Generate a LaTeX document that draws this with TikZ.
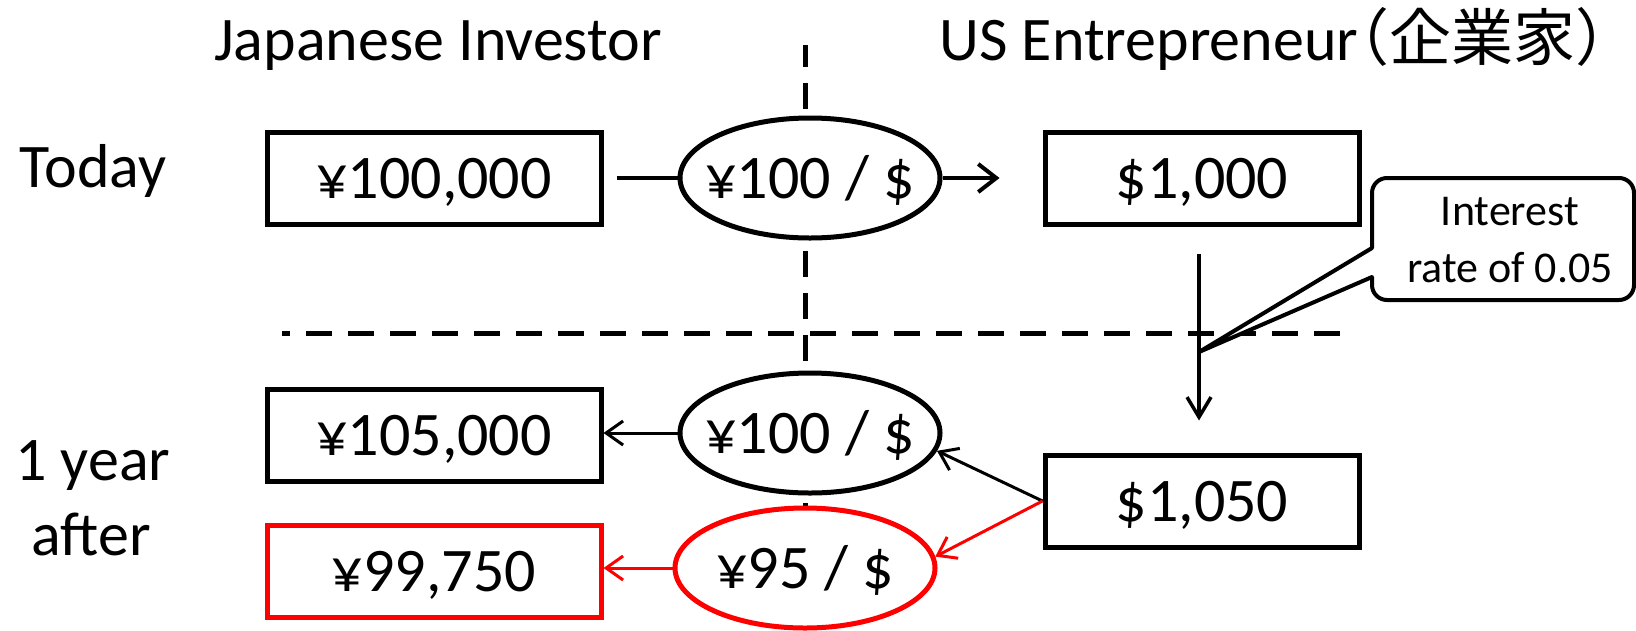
\documentclass[tikz,border=0pt]{standalone}
\usepackage{fontspec}
\setmainfont{Carlito}
\newfontfamily\cjkfont[RawFeature={+halt}]{Noto Sans CJK JP}
\usetikzlibrary{shapes.geometric,arrows.meta}
\begin{document}
\begin{tikzpicture}[x=1pt,y=-1pt,
  big/.style={font=\fontsize{62}{74}\selectfont, inner sep=0pt},
  small/.style={font=\fontsize{44}{57}\selectfont, inner sep=0pt},
  money/.style={draw, line width=5pt, fill=white, minimum height=92pt, inner sep=0pt,
     text height=40pt, text depth=0pt, font=\fontsize{62}{74}\selectfont},
  rate/.style={ellipse, draw, line width=5pt, fill=white, minimum width=260pt, minimum height=120pt,
     inner xsep=-20pt, inner ysep=0pt, text height=40pt, text depth=0pt, font=\fontsize{62}{74}\selectfont},
  divider/.style={line width=5pt, dash pattern=on 26pt off 16pt},
  bigarrow/.style={line width=4pt, -{Straight Barb[length=18pt,width=28pt]}},
  thinarrow/.style={line width=3pt, -{Straight Barb[length=17pt,width=24pt]}},
  callout/.style={line width=4pt, fill=white, line join=round}
]
\useasboundingbox (0,0) rectangle (1636,630);

% dashed dividers
\coordinate (hs) at (282,333);
\coordinate (he) at (1343,333);
\coordinate (vs) at (805,45);
\coordinate (ve) at (805,560);
\draw[divider, dash phase=18pt] (hs) -- (he);
\draw[divider, dash phase=4pt] (vs) -- (ve);

% headings
\node[big, anchor=base] (tJ) at (438,60) {Japanese Investor};
\node[big, anchor=base] (tU) at (1273,60) {US Entrepreneur{\cjkfont（企業家）}};
\node[big, anchor=base] (today) at (93,187) {Today};
\node[big, anchor=base] (yr1) at (93,480) {1 year};
\node[big, anchor=base] (yr2) at (91,555) {after};

% boxes
\node[money, minimum width=334pt] (b1) at (434,178) {¥100,000};
\node[money, minimum width=314pt] (d1) at (1202,178) {\$1,000};
\node[money, minimum width=334pt] (b2) at (434,435) {¥105,000};
\node[money, minimum width=314pt] (d2) at (1202,501) {\$1,050};
\node[money, minimum width=334pt, draw=red] (b3) at (434,571) {¥99,750};

% ellipses
\node[rate] (e1) at (810,178) {¥100 / \$};
\node[rate] (e2) at (810,433) {¥100 / \$};
\node[rate, draw=red] (e3) at (805,568) {¥95 / \$};

% connectors
\draw[line width=4pt] ([xshift=13pt]b1.east) -- (e1.west);
\draw[bigarrow] (e1.east) -- ([xshift=-43pt]d1.west);
\draw[line width=3.5pt, -{Straight Barb[length=20pt,width=24pt]}] ([xshift=-3pt,yshift=-27pt]d1.south) -- ([xshift=-3pt,yshift=32pt]d2.north);
\draw[thinarrow] (e2.west) -- (e2.west -| b2.east);
\draw[thinarrow] (d2.west) -- (e2.-8);
\draw[thinarrow, red] (d2.west) -- (e3.5);
\draw[thinarrow, red] (e3.west) -- (e3.west -| b3.east);

% callout
\coordinate (tip) at (1199,352);
\draw[callout] (1372,248) -- (1372,193) arc[start angle=180, end angle=90, radius=15pt]
  -- (1619,178) arc[start angle=90, end angle=0, radius=15pt]
  -- (1634,285) arc[start angle=0, end angle=-90, radius=15pt]
  -- (1387,300) arc[start angle=270, end angle=180, radius=15pt]
  -- (1372,277) -- (tip) -- cycle;
\node[small, anchor=base] (i1) at (1510,225) {Interest};
\node[small, anchor=base] (i2) at (1510,282) {rate of 0.05};
\end{tikzpicture}
\end{document}
